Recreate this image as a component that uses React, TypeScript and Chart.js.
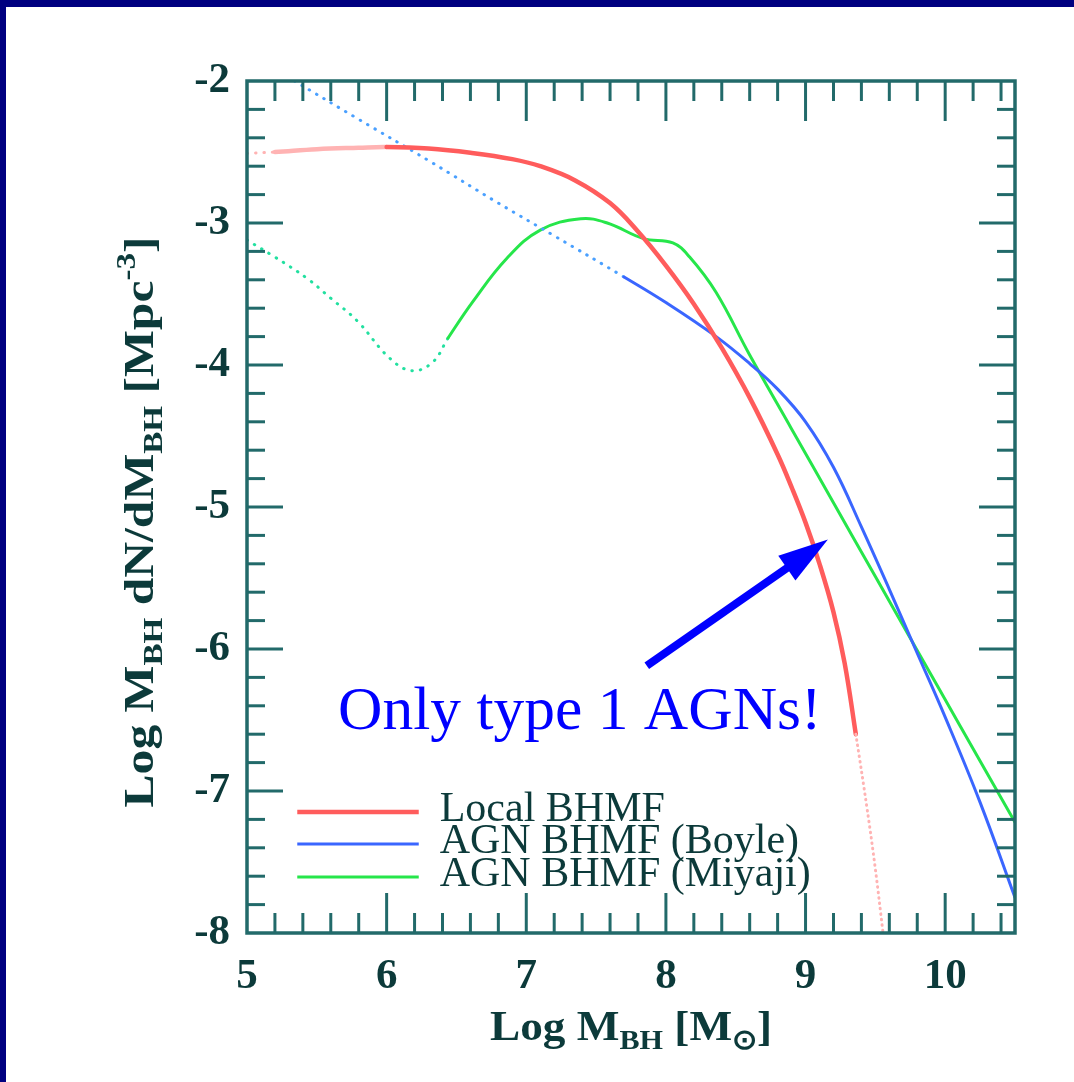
import React, { useEffect, useRef } from "react";
import { Chart, registerables } from "chart.js";

Chart.register(...registerables);

// ---------- data ----------
const xTicks = [5, 6, 7, 8, 9, 10];
const yTicks = [-2, -3, -4, -5, -6, -7, -8];
const xRange = [5, 10.5];
const yRange = [-8, -2];
const minorStep = 0.2;

const seriesLabels = ["Local BHMF", "AGN BHMF (Boyle)", "AGN BHMF (Miyaji)"];

const localX = [5.0, 5.2, 5.5, 5.8, 6.0, 6.3, 6.6, 6.9, 7.1, 7.35, 7.6, 7.8, 8.0, 8.2, 8.4, 8.6, 8.8, 8.9, 9.0, 9.1, 9.2, 9.28, 9.36, 9.44, 9.5, 9.555];
const localY = [-2.51, -2.5, -2.48, -2.47, -2.465, -2.475, -2.505, -2.55, -2.6, -2.7, -2.86, -3.06, -3.3, -3.57, -3.88, -4.23, -4.63, -4.86, -5.11, -5.4, -5.74, -6.1, -6.6, -7.12, -7.55, -8.0];

const boyleX = [5.34, 5.8, 6.3, 6.8, 7.2, 7.7, 8.0, 8.36, 8.6, 8.8, 9.0, 9.2, 9.4, 9.6, 9.8, 10.0, 10.25, 10.5];
const boyleY = [-2.0, -2.27, -2.56, -2.86, -3.09, -3.38, -3.56, -3.8, -3.99, -4.17, -4.4, -4.72, -5.14, -5.58, -6.03, -6.48, -7.08, -7.75];

const miyajiX = [5.0, 5.2, 5.43, 5.6, 5.79, 6.02, 6.18, 6.33, 6.44, 6.62, 6.86, 7.1, 7.39, 7.58, 7.84, 8.05, 8.17, 8.36, 8.6, 8.9, 9.2, 9.5, 9.8, 10.1, 10.5];
const miyajiY = [-3.12, -3.24, -3.39, -3.53, -3.69, -3.95, -4.04, -3.98, -3.81, -3.55, -3.25, -3.05, -2.97, -3.0, -3.11, -3.14, -3.24, -3.49, -3.93, -4.45, -4.97, -5.49, -6.01, -6.53, -7.22];

// ranges drawn solid (outside: dotted extrapolation)
const localSolid = [5.2, 9.36];
const localPaleTo = 5.97;
const boyleSolidFrom = 7.7;
const miyajiSolidFrom = 6.44;

// legend + annotation (data coordinates)
const legendLineX = [5.36, 6.23];
const legendTextX = 6.38;
const legendRowY = [-7.148, -7.373, -7.606];
const noteText = "Only type 1 AGNs!";
const notePos = [5.652, -6.563];
const arrowFrom = [7.863, -6.118];
const arrowTo = [9.16, -5.229];

// ---------- style ----------
const NAVY = "#000080";
const AXIS = "#226a6a";
const TEXT = "#0c3a3a";
const RED = "#ff5c5c";
const RED_PALE = "#ffb3b3";
const BLUE = "#3a66ff";
const GREEN = "#26e64a";
const colors = [RED, BLUE, GREEN];
const widths = [4.5, 3, 3];
const SERIF = "'Liberation Serif', 'Times New Roman', serif";

type Seg = { t: string; k?: "sub" | "sup" };

function drawRich(
  ctx: CanvasRenderingContext2D,
  segs: Seg[],
  cx: number,
  cy: number,
  size: number,
  rot: number,
  targetW: number
) {
  const small = Math.round(size * 0.66);
  const fontOf = (s: Seg) => `bold ${s.k ? small : size}px ${SERIF}`;
  let total = 0;
  const ws = segs.map((s) => {
    ctx.font = fontOf(s);
    const w = ctx.measureText(s.t).width;
    total += w;
    return w;
  });
  ctx.save();
  ctx.translate(cx, cy);
  ctx.rotate(rot);
  ctx.scale(targetW / total, 1);
  ctx.textBaseline = "alphabetic";
  ctx.textAlign = "left";
  let x = -total / 2;
  segs.forEach((s, i) => {
    ctx.font = fontOf(s);
    const dy = s.k === "sub" ? size * 0.22 : s.k === "sup" ? -size * 0.42 : 0;
    ctx.fillText(s.t, x, dy);
    x += ws[i];
  });
  ctx.restore();
}

const framePlugin = {
  id: "frame",
  afterDatasetsDraw(chart: any) {
    const { ctx, chartArea: a, scales } = chart;
    const xs = scales.x;
    const ys = scales.y;
    ctx.save();
    ctx.strokeStyle = AXIS;
    ctx.lineWidth = 3;
    ctx.lineCap = "butt";
    const line = (x1: number, y1: number, x2: number, y2: number) => {
      ctx.beginPath();
      ctx.moveTo(x1, y1);
      ctx.lineTo(x2, y2);
      ctx.stroke();
    };
    const nx = Math.round((xRange[1] - xRange[0]) / minorStep);
    for (let i = 1; i <= nx; i++) {
      const v = xRange[0] + i * minorStep;
      if (v >= xRange[1] - 1e-6) break;
      const major = Math.abs(v - Math.round(v)) < 1e-6;
      const px = xs.getPixelForValue(v);
      const L = major ? 40 : 20;
      line(px, a.bottom, px, a.bottom - L);
      line(px, a.top, px, a.top + L);
    }
    const ny = Math.round((yRange[1] - yRange[0]) / minorStep);
    for (let i = 1; i < ny; i++) {
      const v = yRange[0] + i * minorStep;
      const major = Math.abs(v - Math.round(v)) < 1e-6;
      const py = ys.getPixelForValue(v);
      const L = major ? 36 : 18;
      line(a.left, py, a.left + L, py);
      line(a.right, py, a.right - L, py);
    }
    ctx.lineWidth = 3.5;
    ctx.strokeRect(a.left, a.top, a.right - a.left, a.bottom - a.top);
    ctx.restore();
  },
};

const overlayPlugin = {
  id: "overlay",
  afterDraw(chart: any) {
    const { ctx, chartArea: a, scales } = chart;
    const xs = scales.x;
    const ys = scales.y;
    ctx.save();
    // legend
    const lx1 = xs.getPixelForValue(legendLineX[0]);
    const lx2 = xs.getPixelForValue(legendLineX[1]);
    const tx = xs.getPixelForValue(legendTextX);
    seriesLabels.forEach((lab, i) => {
      const py = ys.getPixelForValue(legendRowY[i]);
      ctx.strokeStyle = colors[i];
      ctx.lineWidth = widths[i];
      ctx.beginPath();
      ctx.moveTo(lx1, py);
      ctx.lineTo(lx2, py);
      ctx.stroke();
      ctx.fillStyle = TEXT;
      ctx.font = `normal 42px ${SERIF}`;
      ctx.textAlign = "left";
      ctx.textBaseline = "alphabetic";
      ctx.fillText(lab, tx, py + 9);
    });
    // annotation text
    ctx.fillStyle = "#0000ff";
    ctx.font = `normal 61.5px ${SERIF}`;
    ctx.textAlign = "left";
    ctx.textBaseline = "alphabetic";
    ctx.fillText(noteText, xs.getPixelForValue(notePos[0]), ys.getPixelForValue(notePos[1]));
    // arrow
    const x1 = xs.getPixelForValue(arrowFrom[0]);
    const y1 = ys.getPixelForValue(arrowFrom[1]);
    const x2 = xs.getPixelForValue(arrowTo[0]);
    const y2 = ys.getPixelForValue(arrowTo[1]);
    const ang = Math.atan2(y2 - y1, x2 - x1);
    const headL = 50;
    const headW = 15;
    const bx = x2 - headL * Math.cos(ang);
    const by = y2 - headL * Math.sin(ang);
    ctx.strokeStyle = "#0000ff";
    ctx.fillStyle = "#0000ff";
    ctx.lineWidth = 8;
    ctx.lineCap = "butt";
    ctx.beginPath();
    ctx.moveTo(x1, y1);
    ctx.lineTo(bx + 5 * Math.cos(ang), by + 5 * Math.sin(ang));
    ctx.stroke();
    ctx.beginPath();
    ctx.moveTo(x2, y2);
    ctx.lineTo(bx - headW * Math.sin(ang), by + headW * Math.cos(ang));
    ctx.lineTo(bx + headW * Math.sin(ang), by - headW * Math.cos(ang));
    ctx.closePath();
    ctx.fill();
    // axis titles
    ctx.fillStyle = TEXT;
    const xTitle: Seg[] = [{ t: "Log M" }, { t: "BH", k: "sub" }, { t: " [M" }, { t: "\u2299", k: "sub" }, { t: "]" }];
    drawRich(ctx, xTitle, (a.left + a.right) / 2, a.bottom + 107, 42, 0, 282);
    const yTitle: Seg[] = [
      { t: "Log M" }, { t: "BH", k: "sub" }, { t: " dN/dM" }, { t: "BH", k: "sub" },
      { t: " [Mpc" }, { t: "-3", k: "sup" }, { t: "]" },
    ];
    drawRich(ctx, yTitle, 147, (a.top + a.bottom) / 2 + 15, 42, -Math.PI / 2, 571);
    ctx.restore();
  },
};

function pts(xs: number[], ys: number[]) {
  return xs.map((x, i) => ({ x, y: ys[i] }));
}

export default function App() {
  const ref = useRef<HTMLCanvasElement>(null);
  useEffect(() => {
    document.body.style.margin = "0";
    const dotted = [0.5, 8];
    const eps = 1e-6;
    const chart = new Chart(ref.current!, {
      type: "line",
      data: {
        datasets: [
          {
            label: seriesLabels[0],
            data: pts(localX, localY),
            borderColor: RED,
            borderWidth: widths[0],
            pointRadius: 0,
            tension: 0.4,
            borderCapStyle: "round",
            segment: {
              borderDash: (c: any) =>
                c.p0.parsed.x < localSolid[0] - eps ? dotted : c.p0.parsed.x >= localSolid[1] - eps ? [0.5, 5] : undefined,
              borderColor: (c: any) =>
                c.p0.parsed.x >= localSolid[1] - eps || c.p0.parsed.x < localPaleTo - eps ? RED_PALE : undefined,
              borderWidth: (c: any) =>
                c.p0.parsed.x >= localSolid[1] - eps || c.p0.parsed.x < localSolid[0] - eps ? 3 : undefined,
            },
          } as any,
          {
            label: seriesLabels[1],
            data: pts(boyleX, boyleY),
            borderColor: BLUE,
            borderWidth: widths[1],
            pointRadius: 0,
            tension: 0.4,
            borderCapStyle: "round",
            segment: {
              borderDash: (c: any) => (c.p0.parsed.x < boyleSolidFrom - eps ? dotted : undefined),
              borderColor: (c: any) => (c.p0.parsed.x < boyleSolidFrom - eps ? "#4aa0ff" : undefined),
            },
          } as any,
          {
            label: seriesLabels[2],
            data: pts(miyajiX, miyajiY),
            borderColor: GREEN,
            borderWidth: widths[2],
            pointRadius: 0,
            tension: 0.4,
            borderCapStyle: "round",
            segment: {
              borderDash: (c: any) => (c.p0.parsed.x < miyajiSolidFrom - eps ? dotted : undefined),
              borderColor: (c: any) => (c.p0.parsed.x < miyajiSolidFrom - eps ? "#22e0a0" : undefined),
            },
          } as any,
        ],
      },
      options: {
        responsive: false,
        maintainAspectRatio: false,
        devicePixelRatio: 1,
        animation: false,
        layout: { padding: { left: 0, right: 59, top: 74, bottom: 0 } },
        plugins: { legend: { display: false }, tooltip: { enabled: false } },
        scales: {
          x: {
            type: "linear",
            min: xRange[0],
            max: xRange[1],
            afterFit: (s: any) => {
              s.height = 149;
            },
            afterBuildTicks: (s: any) => {
              s.ticks = xTicks.map((v) => ({ value: v }));
            },
            grid: { display: false, drawTicks: false },
            border: { display: false },
            ticks: {
              padding: 18,
              color: TEXT,
              font: { family: SERIF, size: 43, weight: "bold" },
              maxRotation: 0,
              autoSkip: false,
              callback: (v: any) => String(v),
            },
          },
          y: {
            type: "linear",
            min: yRange[0],
            max: yRange[1],
            afterFit: (s: any) => {
              s.width = 241;
            },
            afterBuildTicks: (s: any) => {
              s.ticks = yTicks.map((v) => ({ value: v }));
            },
            grid: { display: false, drawTicks: false },
            border: { display: false },
            ticks: {
              padding: 17,
              color: TEXT,
              font: { family: SERIF, size: 43, weight: "bold" },
              autoSkip: false,
              callback: (v: any) => String(v),
            },
          },
        },
      } as any,
      plugins: [framePlugin, overlayPlugin],
    });
    return () => chart.destroy();
  }, []);
  return (
    <div style={{ width: 1074, height: 1082, background: NAVY, position: "relative", overflow: "hidden" }}>
      <div style={{ position: "absolute", left: 6, top: 7, width: 1068, height: 1075, background: "#ffffff" }}>
        <canvas ref={ref} width={1068} height={1075} style={{ display: "block" }} />
      </div>
    </div>
  );
}
